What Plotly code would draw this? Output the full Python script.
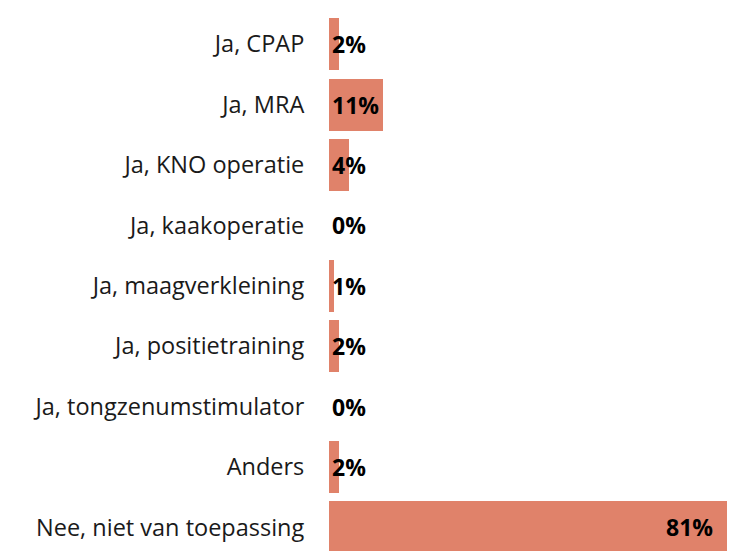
import plotly.graph_objects as go

categories = ["Ja, CPAP", "Ja, MRA", "Ja, KNO operatie", "Ja, kaakoperatie",
              "Ja, maagverkleining", "Ja, positietraining", "Ja, tongzenumstimulator",
              "Anders", "Nee, niet van toepassing"]
values = [2, 11, 4, 0, 1, 2, 0, 2, 81]
labels = ["2%", "11%", "4%", "0%", "1%", "2%", "0%", "2%", "81%"]

ypos = list(range(len(categories)))
bar_color = "#E0826A"
font_family = "Open Sans, Noto Sans, sans-serif"

fig = go.Figure()
fig.add_trace(go.Bar(
    x=values, y=ypos, orientation="h",
    marker=dict(color=bar_color, line=dict(width=0)),
    width=0.86, hoverinfo="skip",
))

annotations = []
for v, y, t in zip(values, ypos, labels):
    if v >= 50:
        annotations.append(dict(x=v, y=y, text=f"<b>{t}</b>", xref="x", yref="y",
                                xanchor="right", yanchor="middle", xshift=-12,
                                showarrow=False,
                                font=dict(size=23, color="#000", family=font_family)))
    else:
        annotations.append(dict(x=0, y=y, text=f"<b>{t}</b>", xref="x", yref="y",
                                xanchor="left", yanchor="middle", xshift=1,
                                showarrow=False,
                                font=dict(size=23, color="#000", family=font_family)))

fig.update_layout(
    width=736, height=543,
    margin=dict(l=321, r=17, t=6, b=0, autoexpand=False),
    paper_bgcolor="white", plot_bgcolor="white",
    showlegend=False,
    bargap=0,
    xaxis=dict(range=[0, 81], visible=False, fixedrange=True),
    yaxis=dict(range=[8.39, -0.5], tickvals=ypos, ticktext=categories,
               showgrid=False, zeroline=False, showline=False, automargin=False,
               ticks="outside", ticklen=19, tickcolor="rgba(0,0,0,0)",
               tickfont=dict(size=23.5, color="#1a1a1a", family=font_family)),
    annotations=annotations,
)

fig.write_html("out.html")
